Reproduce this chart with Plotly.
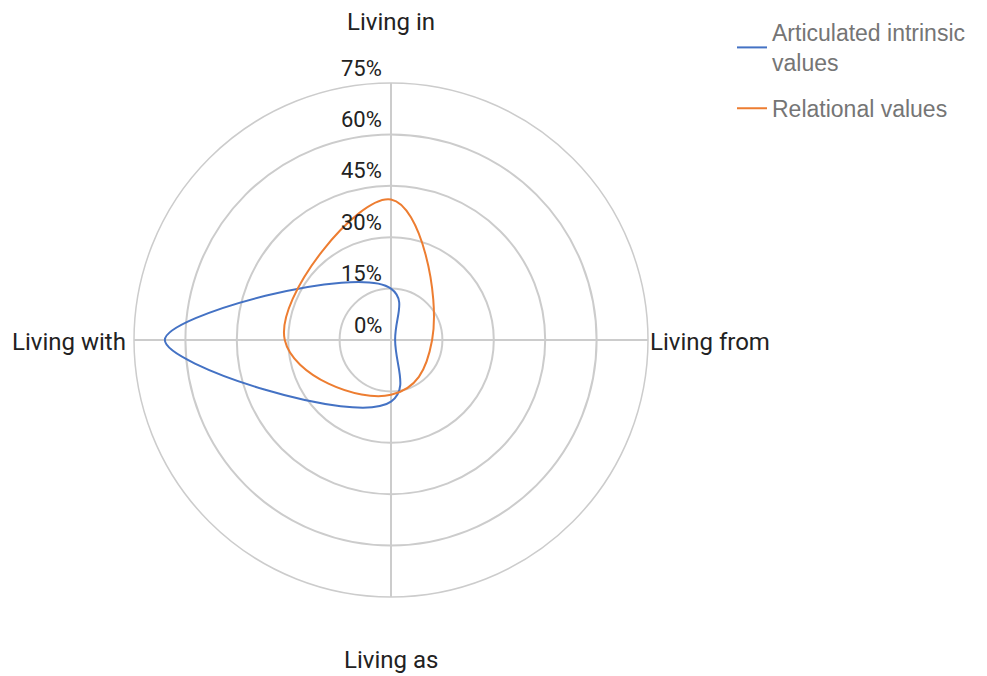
import plotly.graph_objects as go

categories = ["Living in", "Living from", "Living as", "Living with"]
intrinsic = [15, 1.2, 18, 66]
relational = [41, 12, 16, 31]
radial_ticks = [0, 15, 30, 45, 60, 75]
radial_labels = ["0%", "15%", "30%", "45%", "60%", "75%"]

FONT = "Roboto, Arial, sans-serif"
LEGEND_FONT = "Liberation Sans, Arial, sans-serif"
GRID = "#cccccc"
RMAX = 75

def closed(v):
    return list(v) + [v[0]]

fig = go.Figure()
fig.add_trace(go.Scatterpolar(
    r=closed(intrinsic), theta=closed(categories),
    mode="lines", name="Articulated intrinsic<br>values", legendgroup="a",
    line=dict(color="#4472C4", width=2, shape="spline", smoothing=1.3),
))
fig.add_trace(go.Scatterpolar(
    r=closed(relational), theta=closed(categories),
    mode="lines", name="Relational values", legendgroup="b",
    line=dict(color="#ED7D31", width=2, shape="spline", smoothing=1.3),
))

W, H = 987, 676
OFF = 8  # page body margin

def px(x):
    return (x - OFF) / W

def py(y):
    return 1 - (y - OFF) / H

cx, cy, R = 391, 340, 257
fig.update_layout(
    width=W, height=H,
    margin=dict(l=0, r=0, t=0, b=0),
    paper_bgcolor="white",
    font=dict(family=FONT, size=22, color="#222222"),
    polar=dict(
        domain=dict(x=[px(cx - R), px(cx + R)], y=[py(cy + R), py(cy - R)]),
        bgcolor="white",
        radialaxis=dict(
            range=[0, RMAX], tickvals=radial_ticks,
            angle=90, showticklabels=False,
            showline=False, gridcolor=GRID, gridwidth=1.5, ticks="",
        ),
        angularaxis=dict(
            categoryarray=categories, categoryorder="array",
            rotation=90, direction="clockwise",
            showticklabels=False, ticks="",
            gridcolor=GRID, gridwidth=1.5,
            showline=True, linecolor=GRID, linewidth=1.5,
        ),
    ),
    legend=dict(
        x=px(732), y=py(11), xanchor="left", yanchor="top",
        font=dict(family=LEGEND_FONT, size=23, color="#757575"),
        itemwidth=30, tracegroupgap=13,
    ),
    showlegend=True,
)

# radial tick labels, placed above-left of each ring on the vertical axis
for v, t in zip(radial_ticks, radial_labels):
    fig.add_annotation(text=t, xref="paper", yref="paper", showarrow=False,
                       x=px(cx - 7), y=py(cy - R * v / RMAX - 15),
                       xanchor="right", yanchor="middle",
                       font=dict(size=22, color="#222222"))

label_pos = {
    "Living in": dict(x=px(cx), y=py(22), xanchor="center", yanchor="middle"),
    "Living from": dict(x=px(648), y=py(342), xanchor="left", yanchor="middle"),
    "Living as": dict(x=px(cx), y=py(660), xanchor="center", yanchor="middle"),
    "Living with": dict(x=px(128), y=py(342), xanchor="right", yanchor="middle"),
}
for c in categories:
    fig.add_annotation(text=c, xref="paper", yref="paper", showarrow=False,
                       font=dict(size=24, color="#222222"), **label_pos[c])

fig.write_html("out.html")
